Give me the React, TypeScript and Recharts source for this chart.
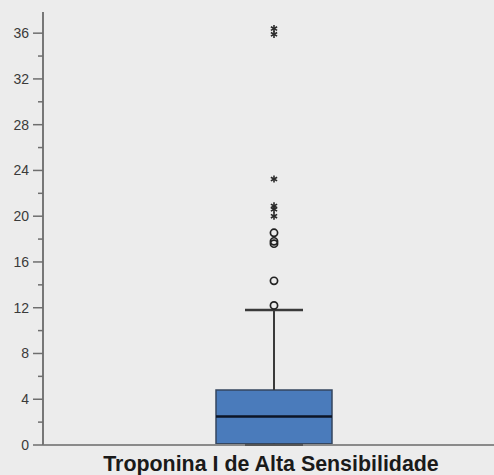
import { ComposedChart, Bar, Scatter, XAxis, YAxis, ReferenceLine } from "recharts"

// five-number summary, one group
const categories = ["Troponina I de Alta Sensibilidade"]
const lowerWhisker = [0]
const q1 = [0.1]
const median = [2.5]
const q3 = [4.8]
const upperWhisker = [11.8]

// outliers: circles = mild, stars = extreme
const mildOutliers = [12.2, 14.35, 17.6, 17.8, 18.55]
const extremeOutliers = [20.0, 20.6, 20.9, 23.25, 35.9, 36.4]

const yTicks = [0, 2, 4, 6, 8, 10, 12, 14, 16, 18, 20, 22, 24, 26, 28, 30, 32, 34, 36]
const yMax = 37.85

const boxData = categories.map((name, i) => ({
  name,
  box: [q1[i], q3[i]],
  median: median[i],
  lo: lowerWhisker[i],
  hi: upperWhisker[i],
}))
const mildData = mildOutliers.map((v) => ({ name: categories[0], v }))
const extremeData = extremeOutliers.map((v) => ({ name: categories[0], v }))

const FONT = "'Liberation Sans', Arial, Helvetica, sans-serif"
const BOX_WIDTH = 116
const CAP_WIDTH = 58

function YTick(props: any) {
  const { x, y, payload } = props
  const major = payload.value % 4 === 0
  return (
    <g>
      <line x1={x - (major ? 10 : 5)} x2={x} y1={y} y2={y} stroke="#6e6e6e" strokeWidth={1.5} />
      {major && (
        <text x={x - 14} y={y} dy={5} textAnchor="end" fontSize={14} fill="#3a3a3a" fontFamily={FONT}>
          {payload.value}
        </text>
      )}
    </g>
  )
}

function XTick(props: any) {
  const { x, y, payload } = props
  return (
    <text x={x} y={y} dx={-3} dy={26} textAnchor="middle" fontSize={21.4} fontWeight="bold" fill="#1a1a1a" fontFamily={FONT}>
      {payload.value}
    </text>
  )
}

const hLine = (width: number, color: string, sw: number) => (p: any) =>
  <line x1={p.cx - width / 2} x2={p.cx + width / 2} y1={p.cy} y2={p.cy} stroke={color} strokeWidth={sw} />

const circleShape = (p: any) => <circle cx={p.cx} cy={p.cy} r={3.6} fill="none" stroke="#222" strokeWidth={1.7} />

const starShape = (p: any) => {
  const r = 3.6
  const arms = [0, 60, 120].map((a) => {
    const rad = ((a + 90) * Math.PI) / 180
    const dx = r * Math.cos(rad)
    const dy = r * Math.sin(rad)
    return <line key={a} x1={p.cx - dx} y1={p.cy - dy} x2={p.cx + dx} y2={p.cy + dy} stroke="#2a2a2a" strokeWidth={1.6} />
  })
  return <g>{arms}</g>
}

export default function App() {
  const name = categories[0]
  return (
    <div style={{ position: "absolute", left: 0, top: 0, width: 494, height: 475, overflow: "hidden", background: "#ececec" }}>
      <ComposedChart width={505} height={475} data={boxData} margin={{ top: 12, right: 0, left: 0, bottom: 0 }}>
        <XAxis
          xAxisId="top"
          orientation="top"
          dataKey="name"
          height={0}
          tick={false}
          tickLine={false}
          axisLine={{ stroke: "#a9a9a9", strokeWidth: 2 }}
        />
        <XAxis
          dataKey="name"
          allowDuplicatedCategory={false}
          height={30}
          tickSize={0}
          tickMargin={0}
          tickLine={false}
          axisLine={{ stroke: "#8a8a8a", strokeWidth: 2 }}
          tick={<XTick />}
        />
        <YAxis
          type="number"
          domain={[0, yMax]}
          ticks={yTicks}
          interval={0}
          width={43}
          tickSize={0}
          tickMargin={0}
          tickLine={false}
          axisLine={{ stroke: "#777", strokeWidth: 2 }}
          tick={<YTick />}
        />
        <ReferenceLine
          segment={[{ x: name, y: q3[0] }, { x: name, y: upperWhisker[0] }]}
          stroke="#3a3a3a"
          strokeWidth={2}
        />
        <ReferenceLine
          segment={[{ x: name, y: lowerWhisker[0] }, { x: name, y: q1[0] }]}
          stroke="#3a3a3a"
          strokeWidth={2}
        />
        <Bar dataKey="box" barSize={BOX_WIDTH} fill="#4a7bbb" stroke="#34465f" strokeWidth={1.5} isAnimationActive={false} />
        <Scatter dataKey="median" shape={hLine(BOX_WIDTH, "#0d1526", 2.5)} isAnimationActive={false} />
        <Scatter dataKey="hi" shape={hLine(CAP_WIDTH, "#3a3a3a", 2.5)} isAnimationActive={false} />
        <Scatter dataKey="lo" shape={hLine(CAP_WIDTH, "#555", 2)} isAnimationActive={false} />
        <Scatter data={mildData} dataKey="v" shape={circleShape} isAnimationActive={false} />
        <Scatter data={extremeData} dataKey="v" shape={starShape} isAnimationActive={false} />
      </ComposedChart>
    </div>
  )
}
